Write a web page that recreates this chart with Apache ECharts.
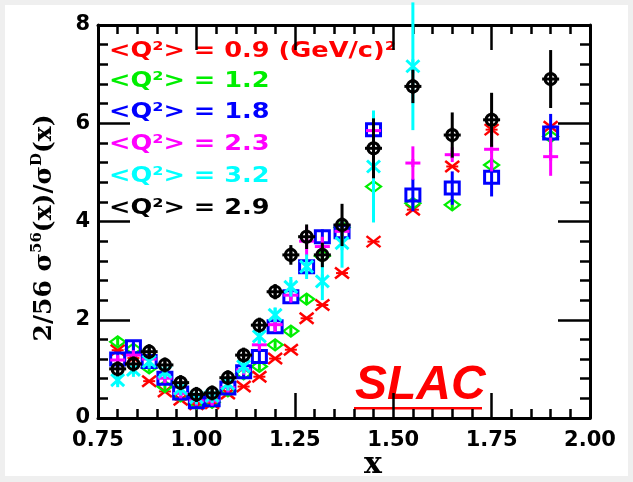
<!DOCTYPE html>
<html><head><meta charset="utf-8">
<script src="https://cdn.jsdelivr.net/npm/echarts@6/dist/echarts.min.js"></script>
<style>html,body{margin:0;padding:0;background:#efefef;}#c{width:633px;height:482px;}</style>
</head><body><div id="c"></div><script>
// ---- data ----
const xVals = [0.80,0.84,0.88,0.92,0.96,1.00,1.04,1.08,1.12,1.16,1.20,1.24,1.28,1.32,1.37,1.45,1.55,1.65,1.75,1.90];
const redVals   = [1.38,1.22,0.75,0.54,0.37,0.28,0.30,0.50,0.64,0.84,1.21,1.39,2.03,2.30,2.95,3.59,4.24,5.12,5.87,5.93];
const redErr    = [0,0,0,0,0,0,0,0,0,0,0,0,0,0,0,0,0,0,0,0];
const greenVals = [1.55,1.40,1.02,0.64,0.45,0.30,0.32,0.55,0.90,1.05,1.49,1.77,2.42,3.30,3.88,4.71,4.37,4.34,5.15,5.73];
const greenErr  = [0.08,0.08,0.08,0.08,0.08,0.08,0.08,0.08,0.08,0.08,0.08,0.08,0.1,0.1,0.1,0.1,0.1,0.1,0.12,0.12];
const blueVals  = [1.20,1.45,1.15,0.81,0.51,0.33,0.37,0.61,0.94,1.25,1.86,2.47,3.08,3.69,3.79,5.87,4.54,4.68,4.90,5.80];
const blueErr   = [0.1,0.1,0.1,0.1,0.1,0.1,0.1,0.1,0.1,0.1,0.12,0.12,0.15,0.15,0.15,0.2,0.33,0.34,0.39,0.39];
const magVals   = [1.18,1.28,1.20,0.81,0.50,0.35,0.35,0.62,0.98,1.49,1.90,2.50,3.60,3.49,3.80,5.85,5.19,5.36,5.47,5.32];
const magErr    = [0.1,0.1,0.1,0.1,0.1,0.1,0.1,0.1,0.1,0.12,0.15,0.15,0.3,0.2,0.2,0.4,0.34,0.15,0.45,0.39];
const cyanVals  = [0.77,0.98,1.15,0.94,0.60,0.42,0.45,0.70,1.05,1.66,2.10,2.67,3.08,2.78,3.56,5.12,7.16,null,null,null];
const cyanErr   = [0.1,0.1,0.1,0.1,0.1,0.1,0.1,0.1,0.12,0.15,0.15,0.2,0.25,0.38,0.5,1.14,1.3,0,0,0];
const blackVals = [1.00,1.10,1.35,1.08,0.72,0.48,0.51,0.82,1.28,1.89,2.57,3.32,3.69,3.32,3.93,5.49,6.75,5.76,6.07,6.90];
const blackErr  = [0.1,0.1,0.1,0.1,0.1,0.1,0.1,0.1,0.1,0.12,0.15,0.2,0.25,0.25,0.43,0.61,0.34,0.46,0.55,0.59];
const legendLabels = ['<Q²> = 0.9 (GeV/c)²','<Q²> = 1.2','<Q²> = 1.8','<Q²> = 2.3','<Q²> = 3.2','<Q²> = 2.9'];
const xTicks = {min:0.75,max:2.00,step:0.25};
const yTicks = {min:0,max:8,step:2};

const COLORS = {red:'#ff0000',green:'#00ee00',blue:'#0000ff',magenta:'#ff00ff',cyan:'#00ffff',black:'#000000'};

function marker(kind, cx, cy, color){
  const L = (x1,y1,x2,y2,w)=>({type:'line',shape:{x1:cx+x1,y1:cy+y1,x2:cx+x2,y2:cy+y2},style:{stroke:color,lineWidth:w}});
  if(kind==='red') return [L(-7,-5.5,7,5.5,2.5),L(-7,5.5,7,-5.5,2.5),L(-6,0,6,0,2)];
  if(kind==='green') return [{type:'polygon',shape:{points:[[cx-7.5,cy],[cx,cy-5.5],[cx+7.5,cy],[cx,cy+5.5]]},style:{fill:null,stroke:color,lineWidth:2.2}}];
  if(kind==='blue') return [{type:'rect',shape:{x:cx-7,y:cy-6,width:14,height:12},style:{fill:null,stroke:color,lineWidth:3}}];
  if(kind==='magenta') return [L(-7.5,0,7.5,0,3),L(0,-4,0,4,3)];
  if(kind==='cyan') return [L(-6.5,-6,6.5,6,3),L(-6.5,6,6.5,-6,3),L(0,-7,0,7,3)];
  if(kind==='black') return [
    {type:'circle',shape:{cx:cx,cy:cy,r:5.5},style:{fill:null,stroke:color,lineWidth:3.2}},
    L(-8.5,0,8.5,0,3),L(0,-7.5,0,7.5,3)];
  return [];
}
function makeSeries(kind, vals, errs){
  const color = COLORS[kind];
  const data = [];
  for(let i=0;i<xVals.length;i++){ if(vals[i]!=null) data.push([xVals[i], vals[i], errs[i]]); }
  return {
    type:'custom', name:kind, data:data, clip:false,
    renderItem:function(params, api){
      const x=api.value(0), y=api.value(1), e=api.value(2);
      const c=api.coord([x,y]);
      const ch=[];
      if(e>0){
        const t=api.coord([x,y+e]), b=api.coord([x,y-e]);
        ch.push({type:'line',shape:{x1:c[0],y1:t[1],x2:c[0],y2:b[1]},style:{stroke:color,lineWidth:3}});
      }
      return {type:'group',children:ch.concat(marker(kind,c[0],c[1],color))};
    }
  };
}

const lblFont = {fontFamily:'DejaVu Sans',fontWeight:'bold',fontSize:21,color:'#000'};
const axisCommon = {
  axisLine:{show:true,onZero:false,lineStyle:{color:'#000',width:3}},
  splitLine:{show:false},
  minorSplitLine:{show:false}
};
const chart = echarts.init(document.getElementById('c'),null,{renderer:'canvas'});
const legendColors = [COLORS.red,COLORS.green,COLORS.blue,COLORS.magenta,COLORS.cyan,COLORS.black];
const legendY = [51.5,82,113,145,176.5,208.5];
const graphics = [
  {type:'rect',z:-10,shape:{x:5,y:5,width:623,height:471},style:{fill:'#ffffff'}}
];
legendLabels.forEach((t,i)=>graphics.push({type:'text',x:109,y:legendY[i],scaleX:1.22,
  style:{text:t,fill:legendColors[i],font:'bold 21px "DejaVu Sans"',textVerticalAlign:'middle',textAlign:'left'}}));
graphics.push({type:'text',x:44,y:228,rotation:Math.PI/2,style:{
  text:'{n|2/56 σ}{s|56}{n|(x)/σ}{s|D}{n|(x)}',textAlign:'center',textVerticalAlign:'middle',
  rich:{n:{fontFamily:'DejaVu Serif',fontWeight:'bold',fontSize:25,lineHeight:28,fill:'#000'},
        s:{fontFamily:'DejaVu Serif',fontWeight:'bold',fontSize:15,lineHeight:15,verticalAlign:'top',fill:'#000'}}}});
graphics.push({type:'text',x:373,y:465,style:{text:'x',fill:'#000',font:'bold 30px "DejaVu Serif"',textAlign:'center',textVerticalAlign:'middle'}});
graphics.push({type:'text',x:355,y:386,style:{text:'SLAC',fill:'#ff0000',font:'italic bold 48px "Liberation Sans"',textAlign:'left',textVerticalAlign:'middle'}});
graphics.push({type:'rect',shape:{x:354,y:407,width:128,height:2.5},style:{fill:'#ff0000'}});

chart.setOption({
  backgroundColor:'#efefef',
  animation:false,
  grid:{left:98,right:43,top:25,bottom:64,containLabel:false},
  xAxis:[
    Object.assign({type:'value',position:'bottom',min:xTicks.min,max:xTicks.max,interval:xTicks.step,
      axisTick:{show:true,inside:true,length:25,lineStyle:{color:'#000',width:2.5}},
      minorTick:{show:true,splitNumber:5,length:9,lineStyle:{color:'#000',width:2.5}},
      axisLabel:Object.assign({margin:12,formatter:v=>v.toFixed(2)},lblFont)},axisCommon),
    Object.assign({type:'value',position:'top',min:xTicks.min,max:xTicks.max,interval:xTicks.step,
      axisTick:{show:true,inside:true,length:25,lineStyle:{color:'#000',width:2.5}},
      minorTick:{show:true,splitNumber:5,length:9,lineStyle:{color:'#000',width:2.5}},
      axisLabel:{show:false}},axisCommon)
  ],
  yAxis:[
    Object.assign({type:'value',position:'left',min:yTicks.min,max:yTicks.max,interval:yTicks.step,
      axisTick:{show:true,inside:true,length:32,lineStyle:{color:'#000',width:2.5}},
      minorTick:{show:true,splitNumber:5,length:10,lineStyle:{color:'#000',width:2.5}},
      axisLabel:Object.assign({margin:8},lblFont)},axisCommon),
    Object.assign({type:'value',position:'right',min:yTicks.min,max:yTicks.max,interval:yTicks.step,
      axisTick:{show:true,inside:true,length:32,lineStyle:{color:'#000',width:2.5}},
      minorTick:{show:true,splitNumber:5,length:10,lineStyle:{color:'#000',width:2.5}},
      axisLabel:{show:false}},axisCommon)
  ],
  graphic:graphics,
  series:[
    makeSeries('red',redVals,redErr),
    makeSeries('green',greenVals,greenErr),
    makeSeries('blue',blueVals,blueErr),
    makeSeries('magenta',magVals,magErr),
    makeSeries('cyan',cyanVals,cyanErr),
    makeSeries('black',blackVals,blackErr)
  ]
});
</script></body></html>
